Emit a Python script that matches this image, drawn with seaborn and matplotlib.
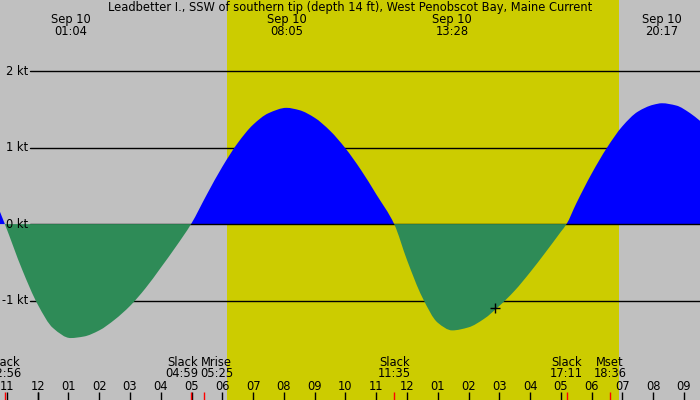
import matplotlib
matplotlib.use("Agg")
import matplotlib.pyplot as plt
import matplotlib.transforms as mtransforms
from matplotlib.path import Path
from matplotlib.patches import PathPatch
import numpy as np
import pandas as pd
import seaborn as sns

# ---------------- data ----------------
title = "Leadbetter I., SSW of southern tip (depth 14 ft), West Penobscot Bay, Maine Current"
date_label = "Sep 10"

# current curve (hours after midnight Sep 10, knots)
curve_hours = [-1.225, -1.067, -0.5, 0.0, 0.5, 1.067, 1.5, 2.0, 2.5, 3.0,
               3.5, 4.0, 4.5, 4.983, 5.5, 6.0, 6.5, 7.0, 7.5, 8.083, 8.5, 9.0,
               9.5, 10.0, 10.5, 11.0, 11.583, 12.0, 12.5, 13.0, 13.467, 14.0,
               14.5, 15.0, 15.5, 16.0, 16.5, 17.0, 17.183, 17.5, 18.0, 18.5, 19.0,
               19.5, 20.0, 20.283, 20.75, 21.2, 21.52]
curve_kt = [0.16, 0.0, -0.60, -1.05, -1.36, -1.49, -1.47, -1.39, -1.25, -1.07,
            -0.84, -0.57, -0.29, 0.0, 0.39, 0.75, 1.06, 1.30, 1.45, 1.52, 1.49, 1.39,
            1.22, 0.99, 0.71, 0.39, 0.0, -0.47, -0.96, -1.29, -1.39, -1.35,
            -1.24, -1.07, -0.87, -0.63, -0.37, -0.10, 0.0, 0.27, 0.66, 1.00, 1.28,
            1.47, 1.56, 1.58, 1.55, 1.45, 1.35]

# maximum current events (top labels)
max_times = ["01:04", "08:05", "13:28", "20:17"]

# bottom events
event_names = ["Slack", "Slack", "Mrise", "Slack", "Slack", "Mset"]
event_times = ["22:56", "04:59", "05:25", "11:35", "17:11", "18:36"]
event_day = [-1, 0, 0, 0, 0, 0]
event_nudge_px = [0, -9, 12, 0, 0, 0]

# daylight
sunrise = "06:09"
sunset = "18:54"

# hour ticks
hour_ticks = list(range(-1, 22))
hour_labels = ["11", "12", "01", "02", "03", "04", "05", "06", "07", "08", "09", "10",
               "11", "12", "01", "02", "03", "04", "05", "06", "07", "08", "09"]

y_levels = [2, 1, 0, -1]
y_labels = ["2 kt", "1 kt", "0 kt", "-1 kt"]

# current-time marker
now_hour = 14.86
now_kt = -1.10


def to_hours(s, day=0):
    h, m = s.split(":")
    return int(h) + int(m) / 60 + 24 * day


def pchip_slopes(x, y):
    """Shape-preserving tangents (Fritsch-Carlson) used to draw a smooth path."""
    h = np.diff(x)
    d = np.diff(y) / h
    m = np.zeros_like(y)
    for k in range(1, len(y) - 1):
        if d[k - 1] * d[k] <= 0:
            m[k] = 0.0
        else:
            w1 = 2 * h[k] + h[k - 1]
            w2 = h[k] + 2 * h[k - 1]
            m[k] = (w1 + w2) / (w1 / d[k - 1] + w2 / d[k])
    m[0] = d[0]
    m[-1] = d[-1]
    return m


def lobe_path(x, y, m, i0, i1):
    verts = [(x[i0], 0.0), (x[i0], y[i0])]
    codes = [Path.MOVETO, Path.LINETO]
    for k in range(i0, i1):
        hk = x[k + 1] - x[k]
        verts += [(x[k] + hk / 3, y[k] + m[k] * hk / 3),
                  (x[k + 1] - hk / 3, y[k + 1] - m[k + 1] * hk / 3),
                  (x[k + 1], y[k + 1])]
        codes += [Path.CURVE4] * 3
    verts += [(x[i1], 0.0), (x[i0], 0.0)]
    codes += [Path.LINETO, Path.CLOSEPOLY]
    return Path(verts, codes)


# ---------------- style ----------------
sns.set_style("white")
plt.rcParams["font.family"] = ["DejaVu Sans"]
FS = 8.3

GRAY = "#C0C0C0"
YELLOW = "#CCCC00"
BLUE = "#0000FF"
GREEN = "#2E8B57"

fig = plt.figure(figsize=(7, 4), dpi=100)
ax = fig.add_axes([0, 0, 1, 1])
ax.set_facecolor(GRAY)
for s in ax.spines.values():
    s.set_visible(False)

df = pd.DataFrame({"hour": curve_hours, "kt": curve_kt})
t = df["hour"].to_numpy(dtype=float)
v = df["kt"].to_numpy(dtype=float)
m = pchip_slopes(t, v)

ax.axvspan(to_hours(sunrise), to_hours(sunset), color=YELLOW, lw=0, zorder=0.5)

# grid lines
for lv in [2, 1, -1]:
    ax.axhline(lv, xmin=30 / 700, xmax=1, color="black", lw=1, zorder=1)
ax.axhline(0, xmin=30 / 700, xmax=1, color="black", lw=1, zorder=2.5)

# flood / ebb lobes, split at slack points
zero_idx = [i for i, val in enumerate(v) if val == 0.0]
bounds = [0] + zero_idx + [len(v) - 1]
for a, b in zip(bounds[:-1], bounds[1:]):
    if b <= a:
        continue
    seg = v[a:b + 1]
    positive = seg.sum() > 0
    patch = PathPatch(lobe_path(t, v, m, a, b), facecolor=BLUE if positive else GREEN,
                      edgecolor="none", lw=0, zorder=2 if positive else 3)
    ax.add_patch(patch)

# y labels
ytrans = mtransforms.blended_transform_factory(ax.transAxes, ax.transData)
for lv, lab in zip(y_levels, y_labels):
    ax.text(28 / 700, lv, lab, transform=ytrans, ha="right", va="center",
            fontsize=FS, color="black", zorder=4)

# title
ax.text(0.5, 1 - 8 / 400, title, transform=ax.transAxes, ha="center", va="center",
        fontsize=FS, color="black", zorder=6)

# top labels for max current
xtrans = mtransforms.blended_transform_factory(ax.transData, ax.transAxes)
for mt in max_times:
    x = to_hours(mt)
    ax.text(x, 1 - 19.5 / 400, date_label, transform=xtrans, ha="center", va="center",
            fontsize=FS, color="black", zorder=6)
    ax.text(x, 1 - 31.5 / 400, mt, transform=xtrans, ha="center", va="center",
            fontsize=FS, color="black", zorder=6)

# bottom event labels
for name, tm, d, nud in zip(event_names, event_times, event_day, event_nudge_px):
    x = to_hours(tm, d)
    ax.annotate(name, xy=(x, (400 - 362) / 400), xycoords=xtrans, xytext=(nud, 0),
                textcoords="offset pixels", ha="center", va="center", fontsize=FS,
                color="black", zorder=6)
    ax.annotate(tm, xy=(x, (400 - 373.5) / 400), xycoords=xtrans, xytext=(nud, 0),
                textcoords="offset pixels", ha="center", va="center", fontsize=FS,
                color="black", zorder=6)

# hour labels
for h, lab in zip(hour_ticks, hour_labels):
    ax.text(h, (400 - 386) / 400, lab, transform=xtrans, ha="center", va="center",
            fontsize=FS, color="black", zorder=6)

# ticks
sns.rugplot(x=hour_ticks, height=8 / 400, color="black", lw=1, ax=ax,
            expand_margins=False, zorder=6)
sns.rugplot(x=[0], height=8 / 400, color="black", lw=3, ax=ax,
            expand_margins=False, zorder=6)
ev_hours = [to_hours(tm, d) for tm, d in zip(event_times, event_day)]
sns.rugplot(x=ev_hours, height=8 / 400, color="red", lw=1, ax=ax,
            expand_margins=False, zorder=6.5)

# current-time marker
sns.scatterplot(x=[now_hour], y=[now_kt], marker="+", s=45, color="black",
                linewidth=1, ax=ax, zorder=7)

ax.set_xlim(-1.225, 21.52)
ax.set_ylim(-2.30, 2.93)
ax.set_xticks([])
ax.set_yticks([])
ax.set_xlabel("")
ax.set_ylabel("")

fig.savefig("out.png", dpi=100, facecolor=GRAY)
